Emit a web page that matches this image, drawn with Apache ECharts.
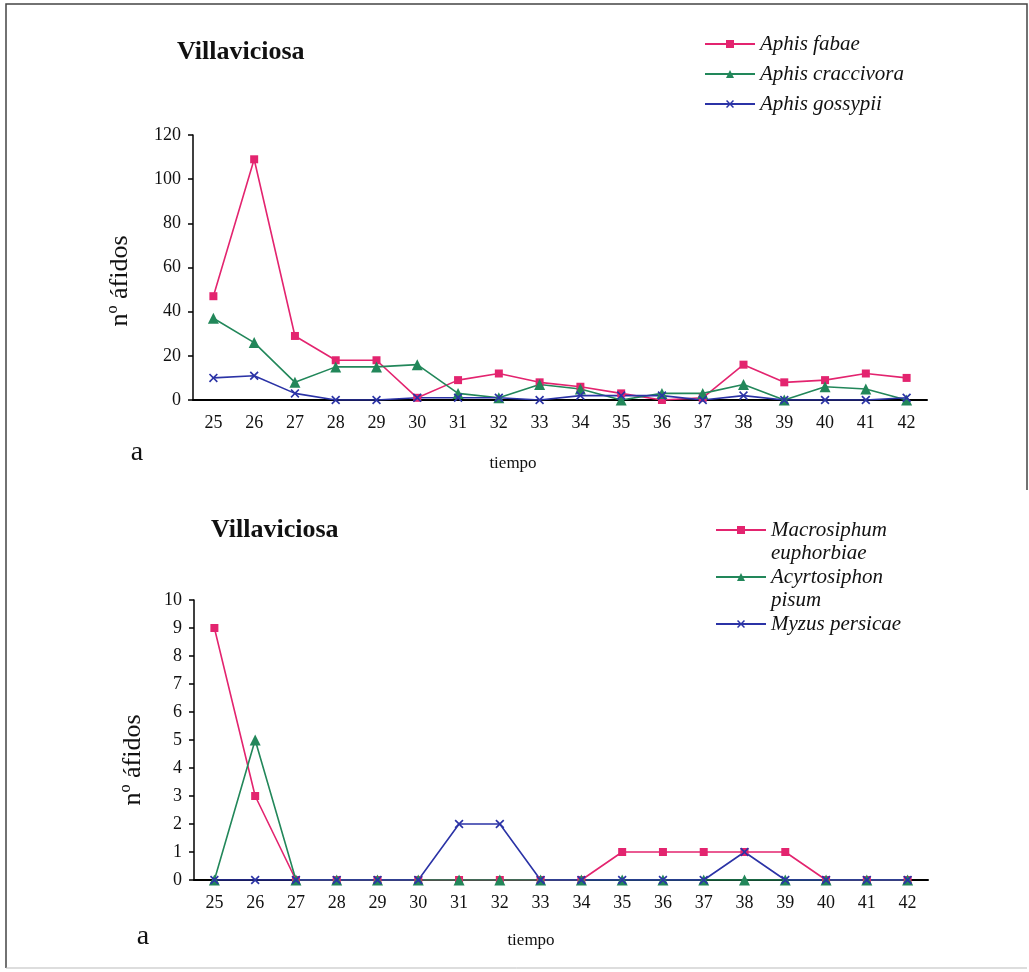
<!DOCTYPE html>
<html>
<head>
<meta charset="utf-8">
<script src="https://cdn.jsdelivr.net/npm/echarts@6/dist/echarts.min.js"></script>
<style>
  html, body { margin: 0; padding: 0; background: #fff; }
  #chart { width: 1029px; height: 972px; }
</style>
</head>
<body>
<div id="chart"></div>
<script>
// semanas (eje x)
const weeks = ['25', '26', '27', '28', '29', '30', '31', '32', '33', '34', '35', '36', '37', '38', '39', '40', '41', '42'];

// grafico superior
const aphisFabae = [47, 109, 29, 18, 18, 1, 9, 12, 8, 6, 3, 0, 1, 16, 8, 9, 12, 10];
const aphisCraccivora = [37, 26, 8, 15, 15, 16, 3, 1, 7, 5, 0, 3, 3, 7, 0, 6, 5, 0];
const aphisGossypii = [10, 11, 3, 0, 0, 1, 1, 1, 0, 2, 2, 2, 0, 2, 0, 0, 0, 1];

// grafico inferior
const macrosiphum = [9, 3, 0, 0, 0, 0, 0, 0, 0, 0, 1, 1, 1, 1, 1, 0, 0, 0];
const acyrtosiphon = [0, 5, 0, 0, 0, 0, 0, 0, 0, 0, 0, 0, 0, 0, 0, 0, 0, 0];
const myzus = [0, 0, 0, 0, 0, 0, 2, 2, 0, 0, 0, 0, 0, 1, 0, 0, 0, 0];

const PINK = '#e3246f';
const GREEN = '#22875a';
const BLUE = '#2b33a6';
const SERIF = '"Liberation Serif", "Times New Roman", serif';
const X_SYMBOL = 'path://M0,1.3L1.3,0L5,3.7L8.7,0L10,1.3L6.3,5L10,8.7L8.7,10L5,6.3L1.3,10L0,8.7L3.7,5Z';

const chart = echarts.init(document.getElementById('chart'));

function xAxisOf(idx) {
    return {
        type: 'category',
        gridIndex: idx,
        data: weeks,
        boundaryGap: true,
        axisLine: { lineStyle: { color: '#000', width: 2 } },
        axisTick: { length: 6, lineStyle: { color: '#000', width: 1.5 } },
        axisLabel: { color: '#111', fontFamily: SERIF, fontSize: 18, margin: 14 },
        splitLine: { show: false }
    };
}

function yAxisOf(idx, max, interval) {
    return {
        type: 'value',
        gridIndex: idx,
        min: 0,
        max: max,
        interval: interval,
        axisLine: { show: true, lineStyle: { color: '#000', width: 1.5 } },
        axisTick: { show: true, length: 5, lineStyle: { color: '#000', width: 1.5 } },
        axisLabel: { color: '#111', fontFamily: SERIF, fontSize: 18, margin: 12 },
        splitLine: { show: false }
    };
}

function lineOf(name, data, idx, color, symbol, size) {
    return {
        name: name,
        type: 'line',
        xAxisIndex: idx,
        yAxisIndex: idx,
        data: data,
        symbol: symbol,
        symbolSize: size,
        showAllSymbol: true,
        lineStyle: { color: color, width: 1.6 },
        itemStyle: { color: color },
        animation: false
    };
}

const legendText = { fontFamily: SERIF, fontStyle: 'italic', fontSize: 21, color: '#111', lineHeight: 21 };
const legendText2 = { fontFamily: SERIF, fontStyle: 'italic', fontSize: 21, color: '#111', lineHeight: 23.5 };

const option = {
    backgroundColor: '#fff',
    title: [
        { text: 'Villaviciosa', left: 177, top: 39, padding: 0,
          textStyle: { fontFamily: SERIF, fontWeight: 'bold', fontSize: 26, color: '#111' } },
        { text: 'Villaviciosa', left: 211, top: 517, padding: 0,
          textStyle: { fontFamily: SERIF, fontWeight: 'bold', fontSize: 26, color: '#111' } }
    ],
    legend: [
        { orient: 'vertical', left: 704, top: 33.5, padding: 0, itemWidth: 50, itemHeight: 10, itemGap: 9,
          textStyle: legendText, data: ['Aphis fabae', 'Aphis craccivora', 'Aphis gossypii'] },
        // linea en blanco delante para que el simbolo quede a la altura de la primera linea
        { left: 715, top: 530 - 35.25, padding: 0, itemWidth: 50, itemHeight: 10,
          textStyle: legendText2, formatter: ' \nMacrosiphum\neuphorbiae', data: ['Macrosiphum euphorbiae'] },
        { left: 715, top: 577 - 35.25, padding: 0, itemWidth: 50, itemHeight: 10,
          textStyle: legendText2, formatter: ' \nAcyrtosiphon\npisum', data: ['Acyrtosiphon pisum'] },
        { left: 715, top: 624 - 11.75, padding: 0, itemWidth: 50, itemHeight: 10,
          textStyle: legendText2, data: ['Myzus persicae'] }
    ],
    grid: [
        { left: 193, top: 135, width: 734, height: 265 },
        { left: 194, top: 600, width: 734, height: 280 }
    ],
    xAxis: [xAxisOf(0), xAxisOf(1)],
    yAxis: [yAxisOf(0, 120, 20), yAxisOf(1, 10, 1)],
    series: [
        lineOf('Aphis fabae', aphisFabae, 0, PINK, 'rect', 8),
        lineOf('Aphis craccivora', aphisCraccivora, 0, GREEN, 'triangle', 11),
        lineOf('Aphis gossypii', aphisGossypii, 0, BLUE, X_SYMBOL, 9),
        lineOf('Macrosiphum euphorbiae', macrosiphum, 1, PINK, 'rect', 8),
        lineOf('Acyrtosiphon pisum', acyrtosiphon, 1, GREEN, 'triangle', 11),
        lineOf('Myzus persicae', myzus, 1, BLUE, X_SYMBOL, 9)
    ],
    graphic: [
        // marco
        { type: 'polyline', shape: { points: [[6, 968], [6, 4], [1027, 4], [1027, 490]] },
          style: { stroke: '#444', lineWidth: 1.5, fill: null } },
        { type: 'line', shape: { x1: 6, y1: 968, x2: 1027, y2: 968 },
          style: { stroke: '#bbb', lineWidth: 1 } },
        // etiquetas
        { type: 'text', x: 120, y: 281, rotation: Math.PI / 2,
          style: { text: 'nº áfidos', font: '26px ' + SERIF, fill: '#111', align: 'center', verticalAlign: 'middle' } },
        { type: 'text', x: 133, y: 760, rotation: Math.PI / 2,
          style: { text: 'nº áfidos', font: '26px ' + SERIF, fill: '#111', align: 'center', verticalAlign: 'middle' } },
        { type: 'text', x: 513, y: 464,
          style: { text: 'tiempo', font: '17px ' + SERIF, fill: '#111', align: 'center', verticalAlign: 'middle' } },
        { type: 'text', x: 531, y: 941,
          style: { text: 'tiempo', font: '17px ' + SERIF, fill: '#111', align: 'center', verticalAlign: 'middle' } },
        { type: 'text', x: 137, y: 453,
          style: { text: 'a', font: '28px ' + SERIF, fill: '#111', align: 'center', verticalAlign: 'middle' } },
        { type: 'text', x: 143, y: 937,
          style: { text: 'a', font: '28px ' + SERIF, fill: '#111', align: 'center', verticalAlign: 'middle' } }
    ]
};

chart.setOption(option);
</script>
</body>
</html>
